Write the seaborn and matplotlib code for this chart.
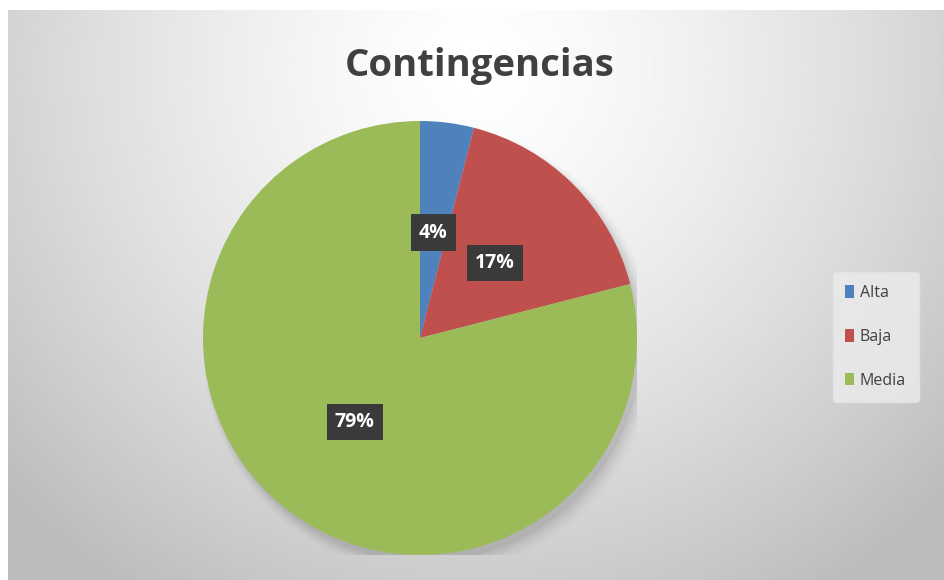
import numpy as np
import matplotlib
matplotlib.use("Agg")
import matplotlib.pyplot as plt
import seaborn as sns

# ── Data ─────────────────────────────────────────────────────────────────────
categories = ["Alta", "Baja", "Media"]
shares = [4, 17, 79]
colors = ["#4F81BD", "#C0504D", "#9BBB59"]
title = "Contingencias"

sns.set_style("white")
plt.rcParams["font.family"] = ["Open Sans", "DejaVu Sans"]

fig = plt.figure(figsize=(9.45, 5.8), dpi=100)

# ── Background: radial gray gradient like the Excel chart area ──────────────
bg = fig.add_axes([0.008, 0.0, 0.992, 0.983])
yy, xx = np.mgrid[0:1:300j, 0:1:500j]
dist = np.sqrt(((xx - 0.5) / 0.62) ** 2 + ((yy - 0.1) / 1.0) ** 2)
shade = 1.0 - 0.23 * np.clip(dist, 0, 1.1) ** 1.4
bg.imshow(shade, cmap="gray", vmin=0, vmax=1, aspect="auto",
          extent=[0, 1, 1, 0], interpolation="bilinear")
bg.set_axis_off()

# ── Pie ──────────────────────────────────────────────────────────────────────
ax = fig.add_axes([0.2148, 0.0431, 0.4593, 0.7483])
# soft shadow
for i, a in enumerate(np.linspace(0.05, 0.01, 5)):
    ax.add_patch(plt.Circle((0.02 + 0.005 * i, -0.03 - 0.005 * i), 1.0 + 0.01 * i,
                            color="black", alpha=a, lw=0, zorder=0))
wedges, _, autotexts = ax.pie(
    shares, colors=colors, startangle=90, counterclock=False,
    autopct="%d%%", pctdistance=0.49, radius=1.0,
    wedgeprops=dict(linewidth=0, zorder=1),
)
for t in autotexts:
    t.set_color("white")
    t.set_fontweight("bold")
    t.set_fontsize(14)
    t.set_bbox(dict(boxstyle="square,pad=0.42", facecolor="#3a3a3a", edgecolor="none"))
ax.set_xlim(-1, 1)
ax.set_ylim(-1, 1)
ax.set_aspect("equal")
ax.set_axis_off()

# ── Title ────────────────────────────────────────────────────────────────────
fig.text(0.508, 0.869, title, ha="center", va="baseline", fontsize=27.5,
         fontweight="bold", color="#404040")

# ── Legend ───────────────────────────────────────────────────────────────────
leg = fig.legend(wedges, categories, loc="center left", bbox_to_anchor=(0.881, 0.419),
                 frameon=True, fontsize=11.5, labelspacing=1.75, handlelength=0.55,
                 handleheight=0.8, handletextpad=0.35, borderpad=0.8,
                 borderaxespad=0)
leg.get_frame().set_facecolor("#ececec")
leg.get_frame().set_edgecolor("#e4e4e4")
leg.get_frame().set_alpha(0.8)
for txt in leg.get_texts():
    txt.set_color("#404040")

fig.savefig("out.png", dpi=100)
